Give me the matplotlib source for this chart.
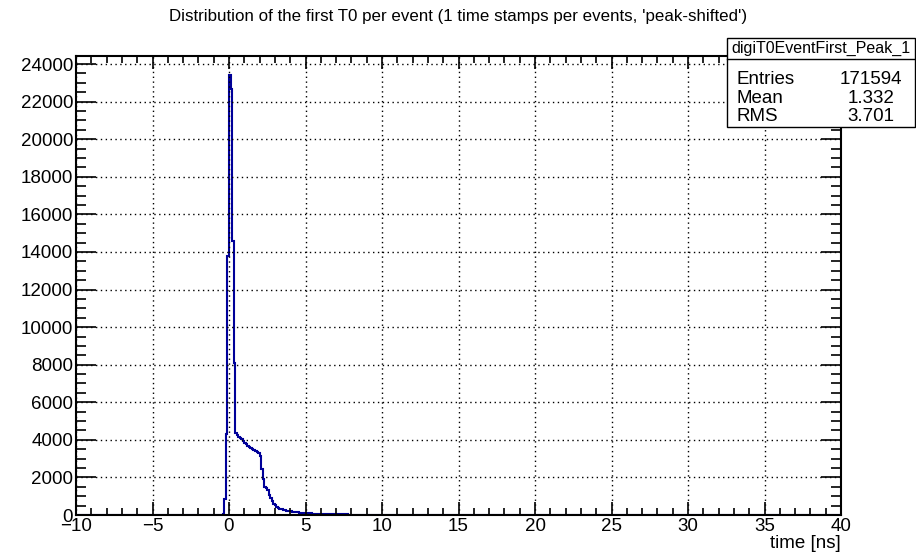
import numpy as np
import matplotlib
matplotlib.use("Agg")
import matplotlib.pyplot as plt
from matplotlib.patches import Rectangle
from matplotlib.ticker import MultipleLocator

plt.rcParams['font.family'] = ['Liberation Sans', 'DejaVu Sans']

# histogram binning: 500 bins of 0.1 ns between -10 and 40 ns
xmin, xmax, nbins = -10.0, 40.0, 500
# filled bins start at -0.5 ns, everything else is empty
first_bin = -0.5
counts_filled = [
    0, 30, 850, 4300, 13800, 23400, 22700, 14600, 8100, 4350,
    4250, 4150, 4080, 4020, 3950, 3850, 3760, 3680, 3600, 3560,
    3500, 3460, 3400, 3350, 3280, 3150, 2450, 1900, 1500, 1450,
    1350, 1050, 880, 720, 600, 520, 450, 390, 340, 300,
    270, 250, 230, 215, 200, 190, 175, 165, 155, 145,
    135, 125, 118, 110, 104, 98, 90, 85, 80, 76,
    72, 68, 64, 60, 57, 54, 51, 49, 47, 45,
    43, 41, 39, 37, 35, 34, 33, 32, 31, 30,
    29, 28, 27, 26, 25,
]

hist_name = "digiT0EventFirst_Peak_1"
stat_names = ["Entries", "Mean", "RMS"]
stat_values = ["171594", "1.332", "3.701"]
title = "Distribution of the first T0 per event (1 time stamps per events, 'peak-shifted')"

edges = np.linspace(xmin, xmax, nbins + 1)
counts = np.zeros(nbins)
i0 = int(round((first_bin - xmin) / ((xmax - xmin) / nbins)))
counts[i0:i0 + len(counts_filled)] = counts_filled

W, H = 916, 552
fig = plt.figure(figsize=(W / 100, H / 100), dpi=100)
ax = fig.add_axes([76 / W, 1 - 515 / H, (841 - 76) / W, (515 - 56) / H])

ax.stairs(counts, edges, color='#000099', lw=1.5, baseline=0)

ax.set_xlim(xmin, xmax)
ax.set_ylim(0, 24430)
ax.xaxis.set_major_locator(MultipleLocator(5))
ax.xaxis.set_minor_locator(MultipleLocator(1))
ax.yaxis.set_major_locator(MultipleLocator(2000))
ax.yaxis.set_minor_locator(MultipleLocator(500))

ax.grid(True, which='major', color='black', linestyle=(0, (1, 2.5)), lw=1.0)
ax.tick_params(axis='both', which='both', direction='in', top=True, right=True,
               labelsize=13.5, color='black', width=1.2, pad=2)
ax.tick_params(axis='x', which='major', length=9.5)
ax.tick_params(axis='x', which='minor', length=5)
ax.tick_params(axis='y', which='major', length=14.5)
ax.tick_params(axis='y', which='minor', length=7.5)
for sp in ax.spines.values():
    sp.set_linewidth(1.5)

ax.set_xlabel("time [ns]", fontsize=13.5, loc='right', labelpad=0)
fig.text(0.5, 1 - 16 / H, title, ha='center', va='center', fontsize=12.2)

# statistics box
bx0, bx1, by0, by1, bsep = 727, 915, 38, 127, 59
fig.patches.append(Rectangle((bx0 / W, 1 - by1 / H), (bx1 - bx0) / W, (by1 - by0) / H,
                             transform=fig.transFigure, facecolor='white',
                             edgecolor='black', lw=1.0, zorder=10))
fig.lines.append(plt.Line2D([bx0 / W, bx1 / W], [1 - bsep / H] * 2,
                            transform=fig.transFigure, color='black', lw=1.0, zorder=11))
fig.text((bx0 + bx1) / 2 / W, 1 - (by0 + bsep) / 2 / H, hist_name,
         ha='center', va='center', fontsize=11.5, zorder=12)
for k, (name, val) in enumerate(zip(stat_names, stat_values)):
    yy = 1 - (80 + 18.5 * k) / H
    fig.text(737 / W, yy, name, ha='left', va='center', fontsize=13.5, zorder=12)
    fig.text(871 / W, yy, val, ha='center', va='center', fontsize=13.5, zorder=12)

fig.savefig("out.png", dpi=100)
